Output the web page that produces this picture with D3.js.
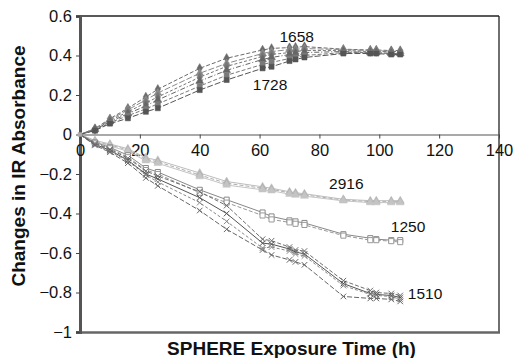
<!DOCTYPE html>
<html>
<head>
<meta charset="utf-8">
<script src="https://cdn.jsdelivr.net/npm/d3@7"></script>
<style>
  body { margin: 0; background: #fff; }
  svg { display: block; font-family: "Liberation Sans", Arial, sans-serif; }
</style>
</head>
<body>
<div id="chart"></div>
<script>
// ── 1. Data ──────────────────────────────────
const TIMES = [0, 5, 10, 16, 22, 26, 40, 49, 61, 64, 70, 72, 75, 88, 97, 99, 104, 107];

// upper group (1658 … 1728)
const UP_A = [0, 0.03, 0.08, 0.133, 0.19, 0.229, 0.335, 0.386, 0.428, 0.436, 0.44, 0.442, 0.445, 0.432, 0.428, 0.428, 0.425, 0.425];
const UP_B = [0, 0.03, 0.075, 0.125, 0.175, 0.21, 0.31, 0.36, 0.41, 0.42, 0.43, 0.432, 0.435, 0.43, 0.425, 0.425, 0.42, 0.42];
const UP_C = [0, 0.025, 0.07, 0.115, 0.16, 0.19, 0.29, 0.345, 0.395, 0.405, 0.415, 0.42, 0.425, 0.425, 0.42, 0.42, 0.42, 0.42];
const UP_D = [0, 0.025, 0.065, 0.105, 0.145, 0.175, 0.27, 0.325, 0.38, 0.39, 0.405, 0.41, 0.415, 0.42, 0.415, 0.415, 0.41, 0.41];
const UP_E = [0, 0.02, 0.06, 0.095, 0.13, 0.155, 0.245, 0.3, 0.355, 0.365, 0.385, 0.39, 0.4, 0.415, 0.415, 0.415, 0.41, 0.41];
const UP_F = [0, 0.02, 0.055, 0.082, 0.115, 0.133, 0.225, 0.276, 0.335, 0.343, 0.372, 0.38, 0.39, 0.41, 0.41, 0.41, 0.405, 0.405];

// 2916 group
const T_1 = [0, -0.03, -0.048, -0.072, -0.118, -0.13, -0.195, -0.238, -0.265, -0.272, -0.29, -0.295, -0.3, -0.328, -0.335, -0.335, -0.335, -0.335];
const T_2 = [0, -0.035, -0.053, -0.078, -0.126, -0.138, -0.205, -0.247, -0.272, -0.278, -0.295, -0.3, -0.306, -0.332, -0.34, -0.34, -0.34, -0.34];
const T_3 = [0, -0.038, -0.058, -0.085, -0.133, -0.146, -0.213, -0.256, -0.28, -0.285, -0.302, -0.307, -0.312, -0.336, -0.345, -0.345, -0.345, -0.345];

// 1250 group
const S_1 = [0, -0.04, -0.065, -0.105, -0.17, -0.19, -0.28, -0.33, -0.395, -0.415, -0.435, -0.44, -0.448, -0.505, -0.525, -0.53, -0.535, -0.535];
const S_2 = [0, -0.045, -0.07, -0.115, -0.18, -0.2, -0.295, -0.345, -0.41, -0.43, -0.445, -0.452, -0.458, -0.512, -0.535, -0.535, -0.54, -0.545];

// 1510 group
const X_1 = [0, -0.045, -0.075, -0.12, -0.185, -0.21, -0.29, -0.36, -0.53, -0.538, -0.57, -0.585, -0.59, -0.74, -0.79, -0.8, -0.805, -0.815];
const X_2 = [0, -0.05, -0.08, -0.13, -0.2, -0.225, -0.32, -0.4, -0.55, -0.555, -0.58, -0.595, -0.605, -0.755, -0.805, -0.81, -0.815, -0.825];
const X_3 = [0, -0.05, -0.085, -0.135, -0.205, -0.24, -0.345, -0.44, -0.575, -0.57, -0.59, -0.605, -0.615, -0.765, -0.81, -0.815, -0.82, -0.835];
const X_4 = [0, -0.055, -0.09, -0.145, -0.22, -0.26, -0.385, -0.48, -0.585, -0.61, -0.635, -0.645, -0.66, -0.82, -0.83, -0.83, -0.835, -0.845];

const X_TICKS = [0, 20, 40, 60, 80, 100, 120, 140];
const Y_TICKS = [0.6, 0.4, 0.2, 0, -0.2, -0.4, -0.6, -0.8, -1];

const LABELS = [
  { text: "1658", t: 72.4,  v: 0.47 },
  { text: "1728", t: 63.5,  v: 0.225 },
  { text: "2916", t: 89,    v: -0.276 },
  { text: "1250", t: 109.6, v: -0.494 },
  { text: "1510", t: 115.3, v: -0.833 },
];

// ── 2. Series styles ─────────────────────────
const SERIES = [
  { vals: UP_A, sym: d3.symbolDiamond,  color: "#6a6a6a", fill: true,  dash: "4,2" },
  { vals: UP_B, sym: d3.symbolTriangle, color: "#8a8a8a", fill: true,  dash: "6,2" },
  { vals: UP_C, sym: d3.symbolDiamond,  color: "#777",    fill: true,  dash: "3,2" },
  { vals: UP_D, sym: d3.symbolTriangle, color: "#666",    fill: true,  dash: "5,2,1,2" },
  { vals: UP_E, sym: d3.symbolSquare,   color: "#7a7a7a", fill: true,  dash: "4,2" },
  { vals: UP_F, sym: d3.symbolSquare,   color: "#555",    fill: true,  dash: "6,2" },
  { vals: T_1,  sym: d3.symbolTriangle, color: "#bdbdbd", fill: true,  dash: null },
  { vals: T_2,  sym: d3.symbolTriangle, color: "#b0b0b0", fill: true,  dash: "4,2" },
  { vals: T_3,  sym: d3.symbolTriangle, color: "#c4c4c4", fill: true,  dash: null },
  { vals: S_1,  sym: d3.symbolSquare,   color: "#888",    fill: false, dash: null },
  { vals: S_2,  sym: d3.symbolSquare,   color: "#999",    fill: false, dash: "4,2" },
  { vals: X_1,  sym: d3.symbolTimes,    color: "#6e6e6e", fill: false, dash: "4,2" },
  { vals: X_2,  sym: d3.symbolTimes,    color: "#555",    fill: false, dash: null },
  { vals: X_3,  sym: d3.symbolTimes,    color: "#888",    fill: false, dash: "3,2" },
  { vals: X_4,  sym: d3.symbolTimes,    color: "#666",    fill: false, dash: "5,2" },
];

// ── 3. Layout ────────────────────────────────
const W = 514, H = 358;
const PLOT = { left: 80, right: 499, top: 16, bottom: 332 };

const x = d3.scaleLinear().domain([0, 140]).range([PLOT.left, PLOT.right]);
const y = d3.scaleLinear().domain([-1, 0.6]).range([PLOT.bottom, PLOT.top]);

const svg = d3.select("#chart").append("svg")
  .attr("width", W).attr("height", H);

// ── 4. Frame ─────────────────────────────────
svg.append("line")
  .attr("x1", PLOT.left).attr("x2", PLOT.right)
  .attr("y1", PLOT.top).attr("y2", PLOT.top)
  .attr("stroke", "#222").attr("stroke-width", 1.3);
svg.append("line")
  .attr("x1", PLOT.right).attr("x2", PLOT.right)
  .attr("y1", PLOT.top).attr("y2", PLOT.bottom)
  .attr("stroke", "#222").attr("stroke-width", 1.3);
svg.append("line")
  .attr("x1", PLOT.left).attr("x2", PLOT.right + 1)
  .attr("y1", PLOT.bottom + 0.5).attr("y2", PLOT.bottom + 0.5)
  .attr("stroke", "#666").attr("stroke-width", 2.5);

// ── 5. Y axis ────────────────────────────────
const fmt = v => v === 0 ? "0"
  : (v < 0 ? "\u2212" : "") + (Math.abs(v) === 1 ? "1" : d3.format(".1f")(Math.abs(v)));
const yAxis = d3.axisLeft(y)
  .tickValues(Y_TICKS)
  .tickSize(4)
  .tickPadding(4)
  .tickFormat(fmt);

const gy = svg.append("g")
  .attr("transform", `translate(${PLOT.left},0)`)
  .call(yAxis);
gy.select(".domain").attr("stroke", "#555").attr("stroke-width", 3);
gy.selectAll(".tick line").attr("stroke", "#444");
gy.selectAll(".tick text")
  .attr("font-size", "16.5px")
  .attr("fill", "#111")
  .attr("font-family", "'Liberation Sans', Arial, sans-serif");

// ── 6. X axis (at y = 0) ─────────────────────
const xAxis = d3.axisBottom(x)
  .tickValues(X_TICKS)
  .tickSize(4)
  .tickSizeOuter(0)
  .tickPadding(6)
  .tickFormat(d3.format("d"));

const gx = svg.append("g")
  .attr("transform", `translate(0,${y(0)})`)
  .call(xAxis);
gx.select(".domain").attr("stroke", "#555").attr("stroke-width", 1.2);
gx.selectAll(".tick line").attr("stroke", "#444");
gx.selectAll(".tick text")
  .attr("font-size", "16.5px")
  .attr("fill", "#111")
  .attr("font-family", "'Liberation Sans', Arial, sans-serif");

// ── 7. Series lines + markers ────────────────
const line = d3.line()
  .x((d, i) => x(TIMES[i]))
  .y(d => y(d));

SERIES.forEach(s => {
  svg.append("path")
    .attr("d", line(s.vals))
    .attr("fill", "none")
    .attr("stroke", s.color)
    .attr("stroke-width", 1)
    .attr("stroke-dasharray", s.dash);

  const symSize = s.sym === d3.symbolTimes ? 22 : 26;
  svg.append("g").selectAll("path")
    .data(s.vals.slice(1))
    .join("path")
    .attr("transform", (d, i) => `translate(${x(TIMES[i + 1])},${y(d)})`)
    .attr("d", d3.symbol().type(s.sym).size(symSize))
    .attr("fill", s.fill ? s.color : (s.sym === d3.symbolTimes ? "none" : "#fff"))
    .attr("stroke", s.color)
    .attr("stroke-width", s.fill ? 0.5 : 1);
});

// first point at origin
svg.append("path")
  .attr("transform", `translate(${x(0)},${y(0)})`)
  .attr("d", d3.symbol().type(d3.symbolSquare).size(20))
  .attr("fill", "#aaa");

// ── 8. Series labels ─────────────────────────
svg.append("g").selectAll("text")
  .data(LABELS)
  .join("text")
  .attr("x", d => x(d.t))
  .attr("y", d => y(d.v))
  .attr("text-anchor", "middle")
  .attr("font-size", "15.5px")
  .attr("fill", "#111")
  .text(d => d.text);

// ── 9. Axis titles ───────────────────────────
svg.append("text")
  .attr("transform", "translate(25,166) rotate(-90)")
  .attr("text-anchor", "middle")
  .attr("font-size", "19px")
  .attr("font-weight", "bold")
  .attr("fill", "#111")
  .text("Changes in IR Absorbance");

svg.append("text")
  .attr("x", 291.5)
  .attr("y", 355)
  .attr("text-anchor", "middle")
  .attr("font-size", "19px")
  .attr("font-weight", "bold")
  .attr("fill", "#111")
  .text("SPHERE Exposure Time (h)");
</script>
</body>
</html>
